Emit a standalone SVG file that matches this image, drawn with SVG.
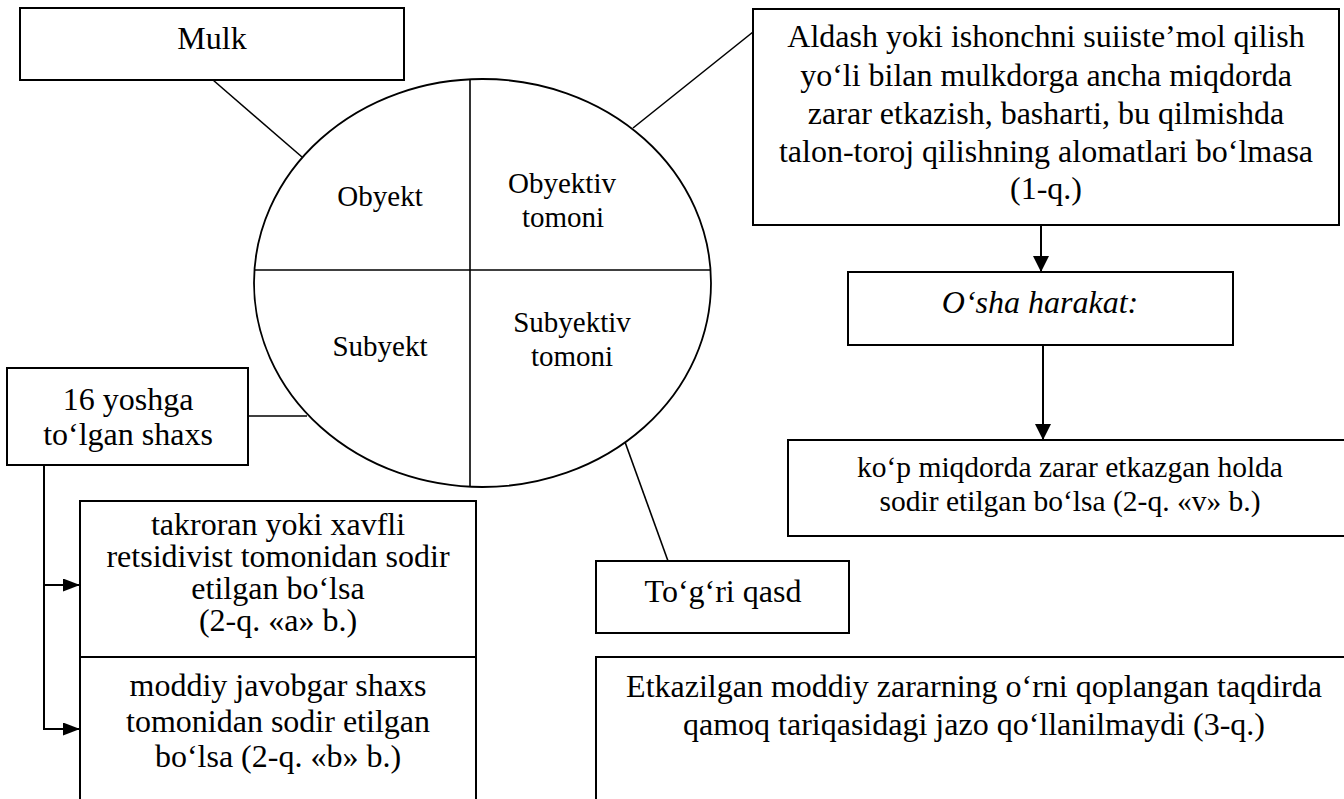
<svg xmlns="http://www.w3.org/2000/svg" width="1344" height="799" viewBox="0 0 1344 799">
<style>
.box{fill:#fff;stroke:#000;stroke-width:2}
.ln{fill:none;stroke:#000;stroke-width:1.6}
.ar{fill:none;stroke:#000;stroke-width:2}
text{font-family:"Times New Roman","Liberation Serif",Tinos,serif;fill:#000;text-anchor:middle}
.t32{font-size:32px}
.t29{font-size:29px}
.t30{font-size:29.5px}
.it{font-style:italic}
</style>
<defs>
<marker id="ah" markerUnits="userSpaceOnUse" markerWidth="17" markerHeight="17" refX="16" refY="8" orient="auto">
<path d="M0,0 L16,8 L0,16 z" fill="#000"/>
</marker>
<marker id="ahs" markerUnits="userSpaceOnUse" markerWidth="18" markerHeight="14" refX="17" refY="6.5" orient="auto">
<path d="M0,0 L17,6.5 L0,13 z" fill="#000"/>
</marker>
</defs>

<g id="connectors">
<line class="ln" x1="213" y1="80" x2="302" y2="157"/>
<line class="ln" x1="633" y1="128" x2="753" y2="32"/>
<line class="ln" x1="248" y1="416" x2="307" y2="416"/>
<line class="ln" x1="625" y1="442" x2="668" y2="561"/>
<line class="ar" x1="1041" y1="225" x2="1041" y2="272" marker-end="url(#ah)"/>
<line class="ar" x1="1043" y1="345" x2="1043" y2="440" marker-end="url(#ah)"/>
<polyline class="ar" points="44,465 44,729 80,729" marker-end="url(#ahs)"/>
<line class="ar" x1="44" y1="585" x2="80" y2="585" marker-end="url(#ahs)"/>
</g>

<g id="circle">
<ellipse cx="482.5" cy="283" rx="228.5" ry="204" fill="none" stroke="#000" stroke-width="1.8"/>
<line class="ln" x1="470" y1="79" x2="470" y2="487"/>
<line class="ln" x1="254.5" y1="270" x2="710.5" y2="270"/>
<text class="t29" x="380" y="206">Obyekt</text>
<text class="t29" x="562" y="193">Obyektiv</text>
<text class="t29" x="563" y="227">tomoni</text>
<text class="t29" x="380" y="356">Subyekt</text>
<text class="t29" x="572" y="332">Subyektiv</text>
<text class="t29" x="572" y="366">tomoni</text>
</g>

<g id="mulk">
<rect class="box" x="20" y="8" width="384" height="72"/>
<text class="t32" x="212" y="49">Mulk</text>
</g>

<g id="aldash">
<rect class="box" x="753" y="9" width="586" height="216"/>
<text class="t32" x="1046" y="47">Aldash yoki ishonchni suiiste’mol qilish</text>
<text class="t32" x="1046" y="85.5">yo‘li bilan mulkdorga ancha miqdorda</text>
<text class="t32" x="1046" y="124">zarar etkazish, basharti, bu qilmishda</text>
<text class="t32" x="1046" y="162">talon-toroj qilishning alomatlari bo‘lmasa</text>
<text class="t32" x="1046" y="199">(1-q.)</text>
</g>

<g id="osha">
<rect class="box" x="848" y="272" width="385" height="73"/>
<text class="t32 it" x="1040" y="313">O‘sha harakat:</text>
</g>

<g id="kop">
<rect class="box" x="788" y="440" width="562" height="96"/>
<text class="t30" x="1070" y="477">ko‘p miqdorda zarar etkazgan holda</text>
<text class="t30" x="1070" y="510.5">sodir etilgan bo‘lsa (2-q. «v» b.)</text>
</g>

<g id="togri">
<rect class="box" x="596" y="561" width="253" height="72"/>
<text class="t32" x="723" y="602">To‘g‘ri qasd</text>
</g>

<g id="etkazilgan">
<rect class="box" x="596" y="657" width="756" height="150"/>
<text class="t32" x="974" y="697">Etkazilgan moddiy zararning o‘rni qoplangan taqdirda</text>
<text class="t32" x="974" y="735">qamoq tariqasidagi jazo qo‘llanilmaydi (3-q.)</text>
</g>

<g id="yosh16">
<rect class="box" x="7" y="368" width="241" height="97"/>
<text class="t32" x="128" y="409.5">16 yoshga</text>
<text class="t32" x="128" y="445">to‘lgan shaxs</text>
</g>

<g id="takroran">
<rect class="box" x="80" y="501" width="396" height="156"/>
<text class="t32" x="278" y="535">takroran yoki xavfli</text>
<text class="t32" x="278" y="567">retsidivist tomonidan sodir</text>
<text class="t32" x="278" y="599">etilgan bo‘lsa</text>
<text class="t32" x="278" y="631">(2-q. «a» b.)</text>
</g>

<g id="moddiy">
<rect class="box" x="80" y="657" width="396" height="150"/>
<text class="t32" x="278" y="696">moddiy javobgar shaxs</text>
<text class="t32" x="278" y="731.5">tomonidan sodir etilgan</text>
<text class="t32" x="278" y="766.5">bo‘lsa (2-q. «b» b.)</text>
</g>
</svg>
